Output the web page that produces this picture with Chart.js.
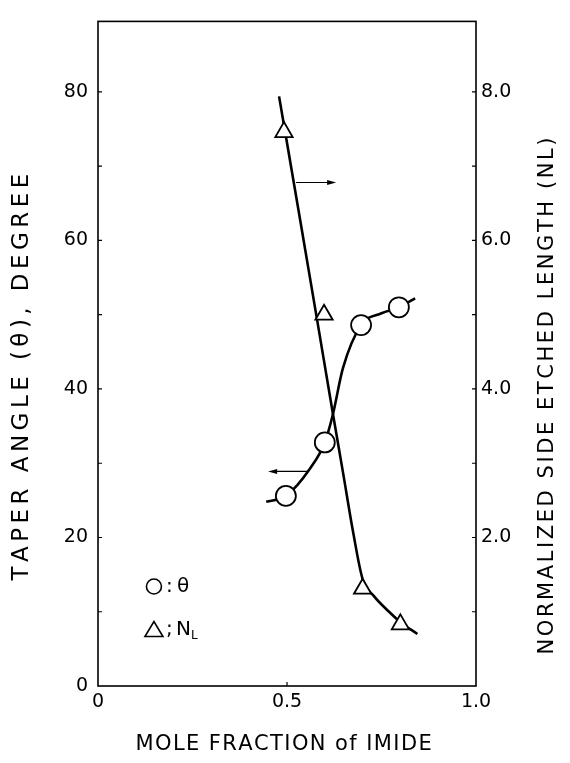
<!DOCTYPE html>
<html>
<head>
<meta charset="utf-8">
<script src="https://cdn.jsdelivr.net/npm/chart.js@4"></script>
<style>
  html, body { margin: 0; padding: 0; background: #fff; }
  #wrap { width: 570px; height: 763px; }
</style>
</head>
<body>
<div id="wrap"><canvas id="taper-chart"></canvas></div>
<script>
// measured points
const thetaX = [0.497, 0.600, 0.696, 0.796];
const thetaY = [25.6, 32.8, 48.6, 51.0];
const nlX = [0.492, 0.598, 0.700, 0.800];
const nlY = [7.46, 5.00, 1.31, 0.83];

// hand drawn curves
const thetaCurveX = [0.445, 0.497, 0.561, 0.600, 0.621, 0.648, 0.696, 0.750, 0.796, 0.839];
const thetaCurveY = [24.8, 25.6, 29.3, 32.8, 36.5, 42.8, 48.6, 50.2, 51.0, 52.2];
const nlCurveX = [0.479, 0.530, 0.580, 0.620, 0.650, 0.675, 0.700, 0.730, 0.770, 0.800, 0.845];
const nlCurveY = [7.94, 6.42, 4.92, 3.71, 2.82, 2.07, 1.44, 1.21, 1.00, 0.86, 0.70];

// axis ticks
const xTicks = [0, 0.5, 1.0];
const leftTicks = [0, 20, 40, 60, 80];
const rightTicks = [2.0, 4.0, 6.0, 8.0];

// arrows pointing at the axis each curve belongs to (x from, x to, theta)
const arrowFrom = [0.524, 0.556];
const arrowTo = [0.630, 0.450];
const arrowAt = [67.8, 28.9];

const xTitle = 'MOLE FRACTION of IMIDE';
const yTitle = 'TAPER ANGLE (\u03b8), DEGREE';
const y2Title = 'NORMALIZED SIDE ETCHED LENGTH (NL)';

const FONT = "'DejaVu Sans', sans-serif";

const pts = (xs, ys) => xs.map((x, i) => ({ x: x, y: ys[i] }));

// spaced out title text, like the lettering of the original
const spacedText = (ctx, text, cx, cy, rot, span, size) => {
    ctx.save();
    ctx.translate(cx, cy);
    ctx.rotate(rot);
    ctx.font = size + 'px ' + FONT;
    ctx.textBaseline = 'middle';
    ctx.textAlign = 'left';
    const w = ctx.measureText(text).width;
    const gap = (span - w) / (text.length - 1);
    let x = -span / 2;
    for (const ch of text) {
        ctx.fillText(ch, x, 0);
        x += ctx.measureText(ch).width + gap;
    }
    ctx.restore();
};

const decor = {
    id: 'decor',
    afterDatasetsDraw(chart) {
        const { ctx, chartArea: a, scales } = chart;
        const sx = scales.x, sy = scales.y, sy2 = scales.y2;
        ctx.save();
        ctx.strokeStyle = '#000';
        ctx.fillStyle = '#000';

        // frame
        ctx.lineWidth = 1.6;
        ctx.strokeRect(a.left, a.top, a.right - a.left, a.bottom - a.top);

        // inward ticks
        ctx.lineWidth = 1.2;
        ctx.beginPath();
        for (let v = 10; v <= 80; v += 10) {
            const y = sy.getPixelForValue(v);
            ctx.moveTo(a.left, y); ctx.lineTo(a.left + 4, y);
        }
        for (let v = 1; v <= 8; v += 1) {
            const y = sy2.getPixelForValue(v);
            ctx.moveTo(a.right, y); ctx.lineTo(a.right - 4, y);
        }
        const xm = sx.getPixelForValue(0.5);
        ctx.moveTo(xm, a.bottom); ctx.lineTo(xm, a.bottom - 4);
        ctx.stroke();

        // arrows
        ctx.lineWidth = 1.1;
        arrowAt.forEach((v, i) => {
            const y = sy.getPixelForValue(v);
            const x1 = sx.getPixelForValue(arrowFrom[i]);
            const x2 = sx.getPixelForValue(arrowTo[i]);
            const d = x2 > x1 ? 1 : -1;
            ctx.beginPath();
            ctx.moveTo(x1, y); ctx.lineTo(x2 - d * 6, y);
            ctx.stroke();
            ctx.beginPath();
            ctx.moveTo(x2, y);
            ctx.lineTo(x2 - d * 9, y - 2.5);
            ctx.lineTo(x2 - d * 9, y + 2.5);
            ctx.closePath();
            ctx.fill();
        });

        // key
        const kx = sx.getPixelForValue(0.148);
        const ky1 = sy.getPixelForValue(13.4);
        const ky2 = sy.getPixelForValue(7.6);
        ctx.lineWidth = 1.6;
        ctx.beginPath();
        ctx.arc(kx, ky1, 7.5, 0, Math.PI * 2);
        ctx.stroke();
        ctx.beginPath();
        ctx.moveTo(kx - 9, ky2 + 7);
        ctx.lineTo(kx + 9, ky2 + 7);
        ctx.lineTo(kx, ky2 - 8);
        ctx.closePath();
        ctx.stroke();
        ctx.font = '20px ' + FONT;
        ctx.textBaseline = 'middle';
        ctx.textAlign = 'left';
        ctx.fillText(':', kx + 12, ky1);
        ctx.fillText('\u03b8', kx + 23, ky1);
        ctx.fillText(';', kx + 12, ky2);
        ctx.fillText('N', kx + 22, ky2);
        ctx.font = '12px ' + FONT;
        ctx.fillText('L', kx + 37, ky2 + 6);

        // axis titles
        spacedText(ctx, xTitle, 283, 745, 0, 295, 21);
        spacedText(ctx, yTitle, 22, 378, -Math.PI / 2, 405, 23);
        spacedText(ctx, y2Title, 548, 397, -Math.PI / 2, 515, 21);
        ctx.restore();
    }
};

const ctx = document.getElementById('taper-chart').getContext('2d');
const myChart = new Chart(ctx, {
    type: 'scatter',
    data: {
        datasets: [
            {
                label: '\u03b8',
                data: pts(thetaX, thetaY),
                yAxisID: 'y',
                pointStyle: 'circle',
                pointRadius: 10,
                pointBackgroundColor: '#fff',
                pointBorderColor: '#000',
                pointBorderWidth: 1.8,
                showLine: false
            },
            {
                label: 'NL',
                data: pts(nlX, nlY),
                yAxisID: 'y2',
                pointStyle: 'triangle',
                pointRadius: 10,
                pointBackgroundColor: '#fff',
                pointBorderColor: '#000',
                pointBorderWidth: 1.8,
                showLine: false
            },
            {
                label: 'theta curve',
                data: pts(thetaCurveX, thetaCurveY),
                yAxisID: 'y',
                showLine: true,
                pointRadius: 0,
                borderColor: '#000',
                borderWidth: 2.6,
                cubicInterpolationMode: 'monotone'
            },
            {
                label: 'NL curve',
                data: pts(nlCurveX, nlCurveY),
                yAxisID: 'y2',
                showLine: true,
                pointRadius: 0,
                borderColor: '#000',
                borderWidth: 2.6,
                cubicInterpolationMode: 'monotone'
            }
        ]
    },
    options: {
        responsive: true,
        maintainAspectRatio: false,
        animation: false,
        layout: { padding: { top: 10, left: 0, right: 0, bottom: 0 } },
        plugins: {
            legend: { display: false },
            tooltip: { enabled: false }
        },
        scales: {
            x: {
                type: 'linear',
                min: 0,
                max: 1.0,
                afterBuildTicks: (s) => { s.ticks = xTicks.map(v => ({ value: v })); },
                afterFit: (s) => { s.height = 77; },
                grid: { display: false, drawTicks: false },
                border: { display: false },
                ticks: {
                    padding: 5,
                    color: '#000',
                    font: { family: FONT, size: 19 },
                    maxRotation: 0,
                    callback: (v) => v === 0 ? '0' : Number(v).toFixed(1)
                },
                title: { display: false, text: xTitle }
            },
            y: {
                type: 'linear',
                position: 'left',
                min: 0,
                max: 89.5,
                afterBuildTicks: (s) => { s.ticks = leftTicks.map(v => ({ value: v })); },
                afterFit: (s) => { s.width = 98; },
                grid: { display: false, drawTicks: false },
                border: { display: false },
                ticks: {
                    padding: 10,
                    color: '#000',
                    font: { family: FONT, size: 19 }
                },
                title: { display: false, text: yTitle }
            },
            y2: {
                type: 'linear',
                position: 'right',
                min: 0,
                max: 8.95,
                afterBuildTicks: (s) => { s.ticks = rightTicks.map(v => ({ value: v })); },
                afterFit: (s) => { s.width = 94; },
                grid: { display: false, drawTicks: false },
                border: { display: false },
                ticks: {
                    padding: 5,
                    color: '#000',
                    font: { family: FONT, size: 19 },
                    callback: (v) => Number(v).toFixed(1)
                },
                title: { display: false, text: y2Title }
            }
        }
    },
    plugins: [decor]
});
</script>
</body>
</html>
